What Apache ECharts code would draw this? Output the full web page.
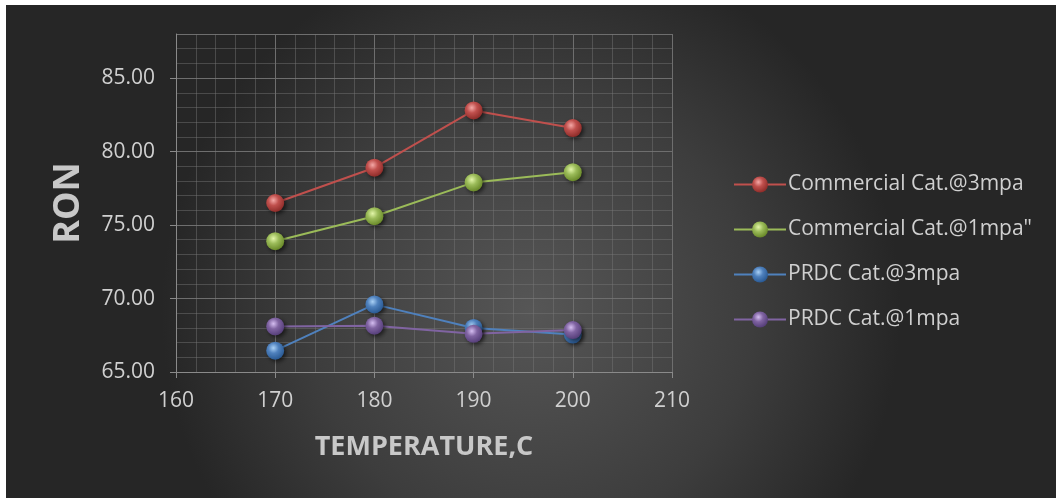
<!DOCTYPE html>
<html><head><meta charset="utf-8">
<script src="https://cdn.jsdelivr.net/npm/echarts@6/dist/echarts.min.js"></script>
<style>html,body{margin:0;padding:0;background:#fff;}#c{position:absolute;left:6px;top:5px;width:1050px;height:493px;}</style>
</head><body><div id="c"></div>
<script>
const temperatures = [170, 180, 190, 200];
const seriesNames = ['Commercial Cat.@3mpa', 'Commercial Cat.@1mpa"', 'PRDC Cat.@3mpa', 'PRDC Cat.@1mpa'];
const commercial3 = [76.5, 78.9, 82.8, 81.6];
const commercial1 = [73.9, 75.6, 77.9, 78.6];
const prdc3 = [66.45, 69.6, 68.0, 67.55];
const prdc1 = [68.1, 68.15, 67.6, 67.85];
const colors = ['#c0504d', '#9bbb59', '#4f81bd', '#8064a2'];
const lights = ['#f4a8a6', '#e2f5a8', '#a9d0f5', '#d4bdf0'];
const darks = ['#8f2d2a', '#6a8a2a', '#2a5a94', '#563f7a'];
const allData = [commercial3, commercial1, prdc3, prdc1];

function sphere(i){
  return {type:'radial', x:0.4, y:0.35, r:0.65, colorStops:[
    {offset:0, color:lights[i]},{offset:0.45, color:colors[i]},{offset:1, color:darks[i]}]};
}
const chart = echarts.init(document.getElementById('c'));
const series = allData.map((d,i)=>({
  name: seriesNames[i], type:'line',
  data: d.map((v,j)=>[temperatures[j], v]),
  symbol:'circle', symbolSize:18,
  lineStyle:{color:colors[i], width:2},
  itemStyle:{color:sphere(i), shadowColor:'rgba(0,0,0,0.6)', shadowBlur:4, shadowOffsetX:2, shadowOffsetY:2},
  emphasis:{disabled:true}
}));
chart.setOption({
  animation:false,
  backgroundColor:{type:'radial', x:0.5, y:0.62, r:0.75, colorStops:[
    {offset:0, color:'#565656'},{offset:0.6, color:'#3d3d3d'},{offset:1, color:'#262626'}]},
  textStyle:{fontFamily:'Open Sans'},
  grid:{left:170, top:29, width:496, height:338, containLabel:false},
  legend:{
    orient:'vertical', left:722, top:164, itemGap:24, itemWidth:52, itemHeight:20,
    textStyle:{color:'#d0d0d0', fontSize:21, fontFamily:'Open Sans', padding:[0,0,0,-3]},
    data: seriesNames
  },
  xAxis:{
    type:'value', min:160, max:210, interval:10,
    name:'TEMPERATURE,C', nameLocation:'middle', nameGap:62,
    nameTextStyle:{color:'#c8c8c8', fontSize:27, fontWeight:'bold', fontFamily:'Open Sans'},
    axisLine:{show:true, lineStyle:{color:'#8a8a8a', width:1}},
    axisTick:{show:true, length:6, lineStyle:{color:'#8a8a8a'}},
    axisLabel:{color:'#d0d0d0', fontSize:21, margin:19},
    splitLine:{show:true, lineStyle:{color:'#6e6e6e', width:1}},
    minorTick:{show:false, splitNumber:5},
    minorSplitLine:{show:true, lineStyle:{color:'rgba(120,120,120,0.45)', width:1}}
  },
  yAxis:{
    type:'value', min:65, max:88, interval:5,
    name:'RON', nameLocation:'middle', nameGap:89, nameRotate:90,
    nameTextStyle:{color:'#c8c8c8', fontSize:36, fontWeight:'bold', fontFamily:'Open Sans'},
    axisLine:{show:true, lineStyle:{color:'#8a8a8a', width:1}},
    axisTick:{show:true, length:6, lineStyle:{color:'#8a8a8a'}},
    axisLabel:{color:'#d0d0d0', fontSize:21, margin:21, showMaxLabel:false, formatter:v=>(v===88?'':v.toFixed(2))},
    splitLine:{show:true, lineStyle:{color:'#6e6e6e', width:1}},
    minorTick:{show:false, splitNumber:5},
    minorSplitLine:{show:true, lineStyle:{color:'rgba(120,120,120,0.45)', width:1}}
  },
  series: series
});
</script></body></html>
